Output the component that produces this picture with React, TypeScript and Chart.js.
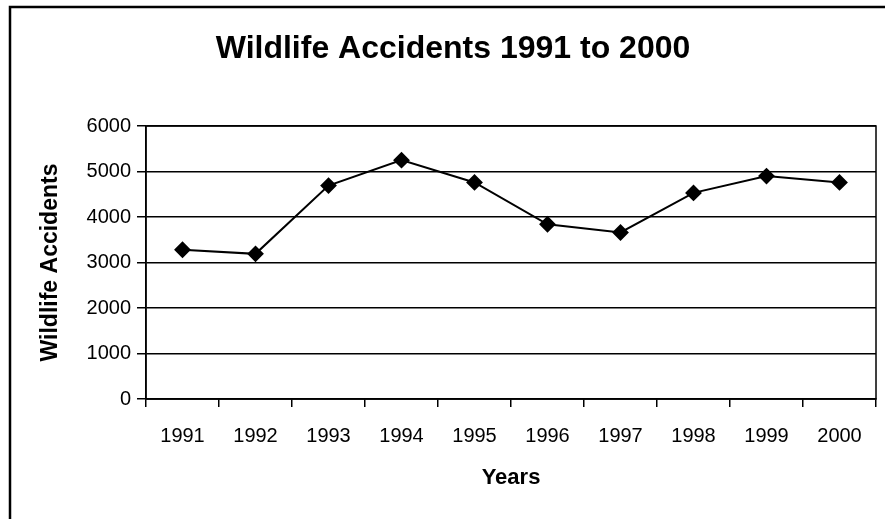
import React, { useEffect, useRef } from "react";
import { Chart, registerables } from "chart.js";

Chart.register(...registerables);

const years = ["1991", "1992", "1993", "1994", "1995", "1996", "1997", "1998", "1999", "2000"];
const accidents = [3280, 3190, 4690, 5250, 4760, 3840, 3660, 4530, 4900, 4760];
const yMin = 0;
const yMax = 6000;
const yStep = 1000;

const FONT = "'Liberation Sans', Arial, sans-serif";

const framePlugin = {
  id: "frame",
  afterDraw(chart: any) {
    const { ctx, chartArea } = chart;
    ctx.save();
    ctx.strokeStyle = "#000";
    ctx.lineWidth = 1.5;
    ctx.strokeRect(chartArea.left, chartArea.top, chartArea.right - chartArea.left, chartArea.bottom - chartArea.top);
    ctx.lineWidth = 2.5;
    ctx.beginPath();
    ctx.moveTo(10, chart.height + 10);
    ctx.lineTo(10, 7);
    ctx.lineTo(chart.width + 10, 7);
    ctx.stroke();
    ctx.restore();
  },
};

export default function App() {
  const ref = useRef<HTMLCanvasElement | null>(null);
  useEffect(() => {
    if (!ref.current) return;
    const chart = new Chart(ref.current, {
      type: "line",
      data: {
        labels: years,
        datasets: [
          {
            data: accidents,
            borderColor: "#000",
            backgroundColor: "#000",
            borderWidth: 2,
            pointStyle: "rectRot",
            pointRadius: 7,
            pointBackgroundColor: "#000",
            pointBorderColor: "#000",
            tension: 0,
          },
        ],
      },
      options: {
        responsive: false,
        animation: false,
        layout: { padding: { left: 29, right: 8, top: 0, bottom: 0 } },
        plugins: {
          legend: { display: false },
          tooltip: { enabled: false },
          title: {
            display: true,
            text: "Wildlife Accidents 1991 to 2000",
            color: "#000",
            font: { family: FONT, size: 32, weight: "bold" },
            padding: { top: 30, bottom: 57.6 },
          },
        },
        scales: {
          x: {
            offset: true,
            afterFit(scale: any) {
              scale.height = 120;
            },
            grid: {
              offset: true,
              drawOnChartArea: false,
              drawTicks: true,
              tickLength: 8,
              color: "#000",
              lineWidth: 1.5,
            },
            border: { display: true, color: "#000", width: 1.5 },
            ticks: {
              color: "#000",
              padding: 17,
              maxRotation: 0,
              autoSkip: false,
              font: { family: FONT, size: 20 },
            },
            title: {
              display: true,
              text: "Years",
              color: "#000",
              font: { family: FONT, size: 22, weight: "bold" },
              padding: { top: 0, bottom: 28 },
            },
          },
          y: {
            min: yMin,
            max: yMax,
            afterFit(scale: any) {
              scale.width = 117;
            },
            grid: {
              color: "#000",
              lineWidth: 1.5,
              drawTicks: true,
              tickLength: 9,
            },
            border: { display: true, color: "#000", width: 1.5 },
            ticks: {
              stepSize: yStep,
              color: "#000",
              padding: 6,
              font: { family: FONT, size: 20 },
              callback: (v: any) => String(v),
            },
            title: {
              display: true,
              text: "Wildlife Accidents",
              color: "#000",
              font: { family: FONT, size: 23, weight: "bold" },
              padding: { top: 8, bottom: 0 },
            },
          },
        },
      },
      plugins: [framePlugin],
    });
    return () => chart.destroy();
  }, []);
  return (
    <div style={{ position: "fixed", left: 0, top: 0, width: 885, height: 519, background: "#fff" }}>
      <canvas ref={ref} width={885} height={519} style={{ display: "block" }} />
    </div>
  );
}
